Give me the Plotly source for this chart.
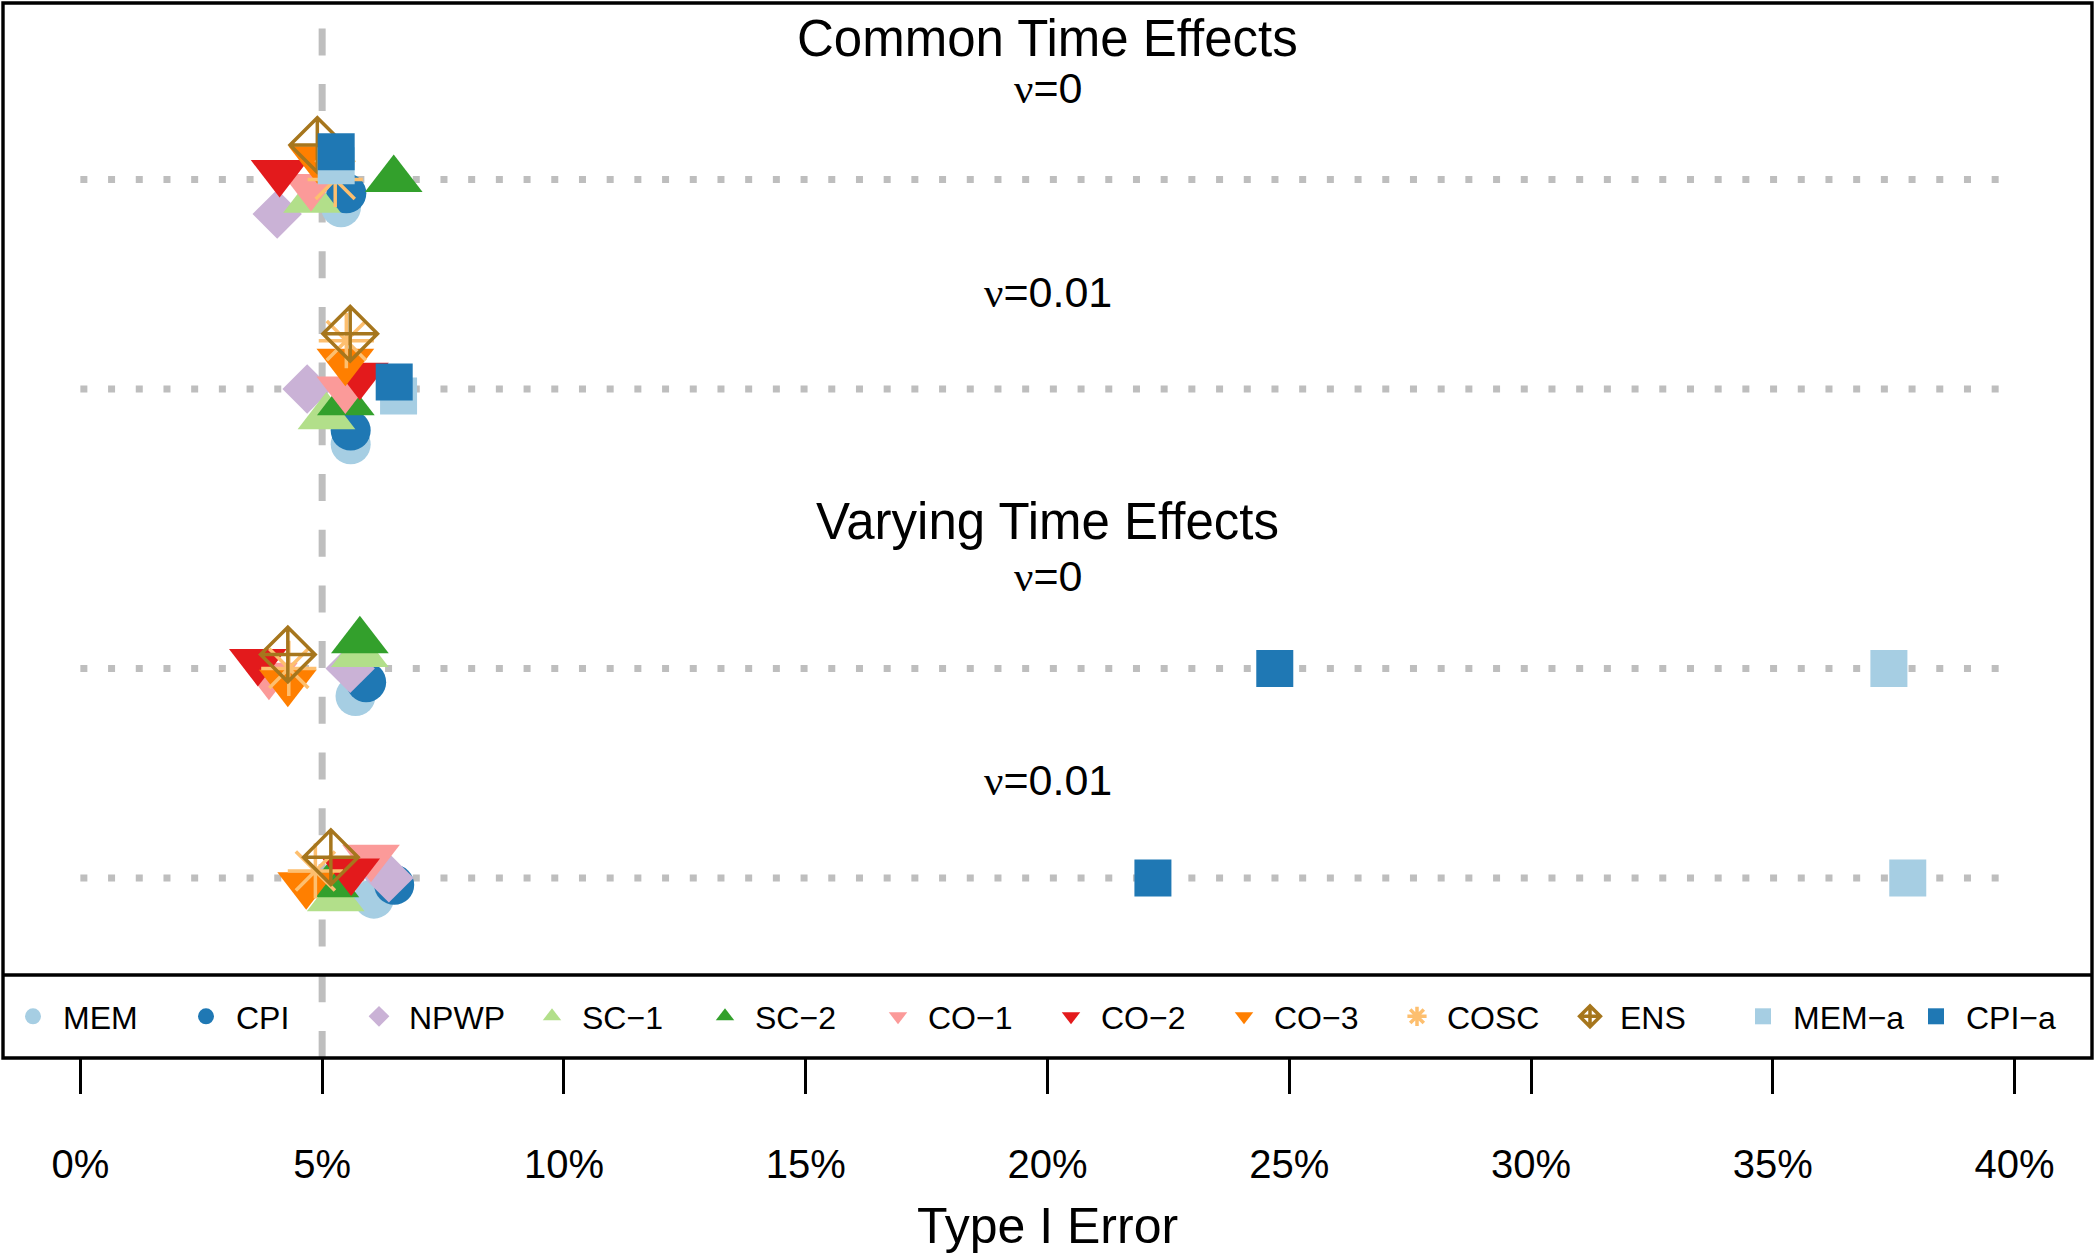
import plotly.graph_objects as go

# ---------------- data ----------------
METHODS = ["MEM", "CPI", "NPWP", "SC\u22121", "SC\u22122", "CO\u22121", "CO\u22122",
           "CO\u22123", "COSC", "ENS", "MEM\u2212a", "CPI\u2212a"]

# Type I error (%) per method, one list per scenario
COMMON_NU0 = [5.39, 5.50, 4.07, 4.79, 6.48, 4.77, 4.12, 4.90, 5.27, 4.90, 5.29, 5.29]
COMMON_NU001 = [5.59, 5.59, 4.69, 5.09, 5.49, 5.48, 5.78, 5.48, 5.50, 5.58, 6.58, 6.49]
VARYING_NU0 = [5.69, 5.91, 5.58, 5.78, 5.78, 3.90, 3.67, 4.29, 4.31, 4.29, 37.40, 24.70]
VARYING_NU001 = [6.07, 6.49, 6.38, 5.28, 5.17, 6.01, 5.60, 4.67, 4.86, 5.18, 37.79, 22.18]

# vertical dodge steps of each point within its row (positive = below the line)
DODGE_COMMON_NU0 = [4, 2, 5, 3, 0, 1, -1, -3, 0, -5, -2, -4]
DODGE_COMMON_NU001 = [8, 6, 0, 4, 2, 0, -2, -4, -7, -8, 1, -1]
DODGE_VARYING_NU0 = [4, 2, 0, -2, -4, 1, -1, 2, 0, -2, 0, 0]
DODGE_VARYING_NU001 = [3, 1, 0, 3, 1, -3, -1, 1, -1, -3, 0, 0]

SECTION_TITLES = ["Common Time Effects", "Varying Time Effects"]
NU_LABELS = ["0", "0.01", "0", "0.01"]
X_TICKS = [0, 5, 10, 15, 20, 25, 30, 35, 40]
X_TICK_LABELS = ["0%", "5%", "10%", "15%", "20%", "25%", "30%", "35%", "40%"]
NOMINAL_LEVEL = 5
X_TITLE = "Type I Error"

# ---------------- styling / layout ----------------
COLORS = ["#A6CEE3", "#1F78B4", "#CAB2D6", "#B2DF8A", "#33A02C", "#FB9A99",
          "#E31A1C", "#FF7F00", "#FDBF6F", "#A6761D", "#A6CEE3", "#1F78B4"]
SYMBOLS = ["circle", "circle", "diamond", "triangle-up", "triangle-up",
           "triangle-down", "triangle-down", "triangle-down", "asterisk-open",
           "diamond-cross-open", "square", "square"]
SIZES = [40, 40, 38, 50, 50, 50, 50, 50, 46, 42, 37, 37]

ROWS = [COMMON_NU0, COMMON_NU001, VARYING_NU0, VARYING_NU001]
DODGES = [DODGE_COMMON_NU0, DODGE_COMMON_NU001, DODGE_VARYING_NU0, DODGE_VARYING_NU001]
ROW_Y = [4.0, 3.0, 5.0 / 3.0, 2.0 / 3.0]
DODGE_STEP = 0.033
Y_RANGE = [-0.193, 4.8425]
X_RANGE = [-1.6, 41.6]
GRAY = "#BEBEBE"
FONT = "Liberation Sans, Arial, Helvetica, sans-serif"

fig = go.Figure()

# dotted row guides
for ry in ROW_Y:
    fig.add_trace(go.Scatter(x=[X_TICKS[0], X_TICKS[-1]], y=[ry, ry], mode="lines",
                             line=dict(color=GRAY, width=7, dash="7px,20.7px"),
                             showlegend=False, hoverinfo="skip"))
# nominal level line
fig.add_trace(go.Scatter(x=[NOMINAL_LEVEL, NOMINAL_LEVEL], y=[Y_RANGE[0], Y_RANGE[1]],
                         mode="lines", line=dict(color=GRAY, width=7, dash="27px,28.7px"),
                         showlegend=False, hoverinfo="skip"))

for i, name in enumerate(METHODS):
    xs = [row[i] for row in ROWS]
    ys = [ROW_Y[r] - DODGE_STEP * DODGES[r][i] for r in range(len(ROWS))]
    open_sym = SYMBOLS[i].endswith("open")
    marker = dict(symbol=SYMBOLS[i], size=SIZES[i], color=COLORS[i],
                  line=dict(width=3.5 if open_sym else 0, color=COLORS[i]))
    fig.add_trace(go.Scatter(x=xs, y=ys, mode="markers", name=name, marker=marker))

# headers
ann = []
ann.append(dict(x=20, y=4.675, xref="x", yref="y", text=SECTION_TITLES[0],
                showarrow=False, font=dict(size=51), yanchor="middle"))
ann.append(dict(x=20, y=2.37, xref="x", yref="y", text=SECTION_TITLES[1],
                showarrow=False, font=dict(size=51), yanchor="middle"))
nu_offsets = [0.435, 0.461, 0.441, 0.467]
for r, lab in enumerate(NU_LABELS):
    ann.append(dict(x=20, y=ROW_Y[r] + nu_offsets[r], xref="x", yref="y",
                    text="<span style='font-family:Liberation Serif'>\u03bd</span>=" + lab,
                    showarrow=False, font=dict(size=43), yanchor="middle"))

LEGEND_TOP = (1058 - 975) / 1055.0

fig.update_layout(
    width=2094, height=1255,
    margin=dict(l=3, r=2, t=3, b=197),
    plot_bgcolor="white", paper_bgcolor="white",
    font=dict(family=FONT, color="black"),
    annotations=ann,
    shapes=[
        dict(type="rect", xref="paper", yref="paper", x0=0, x1=1, y0=0, y1=1,
             line=dict(color="black", width=3.4)),
        dict(type="line", xref="paper", yref="paper", x0=0, x1=1,
             y0=LEGEND_TOP, y1=LEGEND_TOP, line=dict(color="black", width=3.4)),
    ],
    legend=dict(orientation="h", x=0, xanchor="left", y=LEGEND_TOP / 2, yanchor="middle",
                font=dict(size=32), bgcolor="rgba(0,0,0,0)", itemwidth=50,
                entrywidth=108, entrywidthmode="pixels", tracegroupgap=0),
    xaxis=dict(range=X_RANGE, tickvals=X_TICKS, ticktext=X_TICK_LABELS,
               ticks="outside", ticklen=35, tickwidth=2.5, tickcolor="black",
               tickfont=dict(size=40), ticklabelstandoff=36,
               showgrid=False, zeroline=False, showline=False,
               title=dict(text=X_TITLE, font=dict(size=50), standoff=22)),
    yaxis=dict(range=Y_RANGE, showticklabels=False, ticks="", showgrid=False,
               zeroline=False, showline=False),
)

fig.write_html("out.html", config={"displayModeBar": False},
               post_script="document.body.style.margin='0';document.body.style.overflow='hidden';")
